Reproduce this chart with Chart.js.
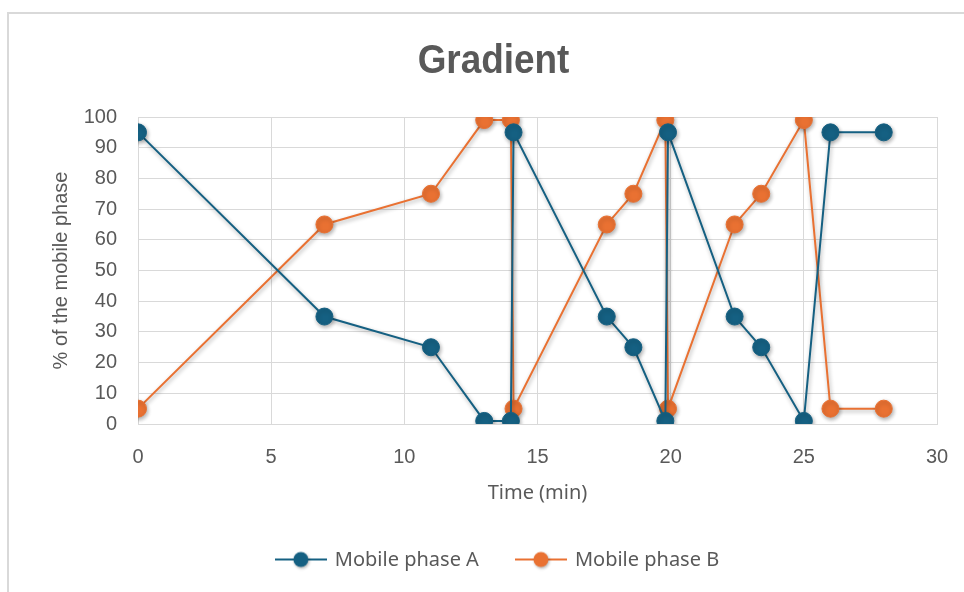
<!DOCTYPE html>
<html>
<head>
<meta charset="utf-8">
<title>Gradient</title>
<script src="https://cdn.jsdelivr.net/npm/chart.js@4.4.1/dist/chart.umd.min.js"></script>
<style>
  html, body { margin: 0; padding: 0; background: #ffffff; overflow: hidden; }
  #wrap { position: relative; width: 964px; height: 592px; overflow: hidden; }
  #frame { position: absolute; left: 7px; top: 12px; width: 1000px; height: 1000px;
           border: 2px solid #d9d9d9; box-sizing: border-box; }
  #c { position: absolute; left: 0; top: 0; }
</style>
</head>
<body>
<div id="wrap">
  <div id="frame"></div>
  <canvas id="c" width="964" height="592"></canvas>
</div>
<script>
// Gradient programme: time (min) and % of each mobile phase
const timeA  = [0, 7, 11, 13, 14, 14.1, 17.6, 18.6, 19.8, 19.9, 22.4, 23.4, 25, 26, 28];
const phaseA = [95, 35, 25, 1, 1, 95, 35, 25, 1, 95, 35, 25, 1, 95, 95];
const timeB  = [0, 7, 11, 13, 14, 14.1, 17.6, 18.6, 19.8, 19.9, 22.4, 23.4, 25, 26, 28];
const phaseB = [5, 65, 75, 99, 99, 5, 65, 75, 99, 5, 65, 75, 99, 5, 5];
const seriesNames = ['Mobile phase A', 'Mobile phase B'];
const xTicks = [0, 5, 10, 15, 20, 25, 30];
const yTicks = [0, 10, 20, 30, 40, 50, 60, 70, 80, 90, 100];
const chartTitle = 'Gradient';

const BLUE = '#156082';
const ORANGE = '#E97132';
const TEXT = '#595959';
const GRID = '#d9d9d9';

const toPoints = (xs, ys) => xs.map((x, i) => ({ x: x, y: ys[i] }));

// Legend swatch: short line with a round marker in the middle
function legendSwatch(color) {
  const cv = document.createElement('canvas');
  cv.width = 52; cv.height = 22;
  const g = cv.getContext('2d');
  g.strokeStyle = color; g.lineWidth = 2;
  g.beginPath(); g.moveTo(0, 10); g.lineTo(52, 10); g.stroke();
  g.shadowColor = 'rgba(0,0,0,0.3)'; g.shadowBlur = 3; g.shadowOffsetX = 1; g.shadowOffsetY = 1.5;
  g.fillStyle = color;
  g.beginPath(); g.arc(26, 10, 7.5, 0, Math.PI * 2); g.fill();
  return cv;
}

// Soft drop shadow under the series lines and markers
const seriesShadow = {
  id: 'seriesShadow',
  beforeDatasetsDraw(chart) {
    const ctx = chart.ctx;
    ctx.save();
    ctx.shadowColor = 'rgba(0,0,0,0.33)';
    ctx.shadowBlur = 4;
    ctx.shadowOffsetX = 1;
    ctx.shadowOffsetY = 2;
  },
  afterDatasetsDraw(chart) {
    chart.ctx.restore();
  }
};

// Condensed bold heading above the plot
const condensedTitle = {
  id: 'condensedTitle',
  afterDraw(chart, args, opts) {
    const ctx = chart.ctx;
    ctx.save();
    ctx.translate(opts.x, opts.y);
    ctx.scale(opts.squeeze, 1);
    ctx.fillStyle = opts.color;
    ctx.font = opts.font;
    ctx.textAlign = 'center';
    ctx.textBaseline = 'alphabetic';
    ctx.fillText(opts.text, 0, 0);
    ctx.restore();
  }
};

new Chart(document.getElementById('c'), {
  type: 'line',
  data: {
    datasets: [
      {
        label: seriesNames[0],
        data: toPoints(timeA, phaseA),
        borderColor: BLUE,
        backgroundColor: BLUE,
        pointBackgroundColor: BLUE,
        pointBorderColor: BLUE,
        borderWidth: 2,
        pointRadius: 8.5,
        pointBorderWidth: 1,
        pointStyle: 'circle',
        tension: 0,
        fill: false
      },
      {
        label: seriesNames[1],
        data: toPoints(timeB, phaseB),
        borderColor: ORANGE,
        backgroundColor: ORANGE,
        pointBackgroundColor: ORANGE,
        pointBorderColor: ORANGE,
        borderWidth: 2,
        pointRadius: 8.5,
        pointBorderWidth: 1,
        pointStyle: 'circle',
        tension: 0,
        fill: false
      }
    ]
  },
  options: {
    responsive: false,
    animation: false,
    layout: { padding: { left: 59, right: 27, top: 117, bottom: 11.5 } },
    plugins: {
      tooltip: { enabled: false },
      title: { display: false },
      condensedTitle: {
        text: chartTitle,
        x: 493.5,
        y: 73,
        squeeze: 0.9,
        color: TEXT,
        font: 'bold 41px "Liberation Sans", Arial, sans-serif'
      },
      legend: {
        position: 'bottom',
        labels: {
          color: TEXT,
          font: { family: '"Noto Sans", "Open Sans", sans-serif', size: 20 },
          usePointStyle: true,
          pointStyleWidth: 48,
          padding: 38,
          generateLabels(chart) {
            return chart.data.datasets.map((ds, i) => ({
              text: ds.label,
              pointStyle: legendSwatch(ds.borderColor),
              fillStyle: ds.borderColor,
              strokeStyle: ds.borderColor,
              lineWidth: 0,
              fontColor: TEXT,
              hidden: false,
              datasetIndex: i
            }));
          }
        }
      }
    },
    scales: {
      x: {
        type: 'linear',
        min: 0,
        max: 30,
        afterBuildTicks(scale) { scale.ticks = xTicks.map(v => ({ value: v })); },
        afterFit(scale) {
          scale.height = 88.5;
          scale.paddingLeft = 0;
          scale.paddingRight = 0;
        },
        grid: { color: GRID, lineWidth: 1, drawTicks: false },
        border: { color: GRID },
        ticks: {
          color: TEXT,
          padding: 21,
          font: { family: '"Liberation Sans", Arial, sans-serif', size: 20 }
        },
        title: {
          display: true,
          text: 'Time (min)',
          color: TEXT,
          font: { family: '"Noto Sans", "Open Sans", sans-serif', size: 20 },
          padding: { top: 0, bottom: 7.5 }
        }
      },
      y: {
        type: 'linear',
        min: 0,
        max: 100,
        afterBuildTicks(scale) { scale.ticks = yTicks.map(v => ({ value: v })); },
        afterFit(scale) { scale.width = 79; },
        grid: { color: GRID, lineWidth: 1, drawTicks: false },
        border: { color: GRID },
        ticks: {
          color: TEXT,
          padding: 21,
          font: { family: '"Liberation Sans", Arial, sans-serif', size: 20 }
        },
        title: {
          display: true,
          text: '% of the mobile phase',
          color: TEXT,
          font: { family: '"Liberation Sans", Arial, sans-serif', size: 20 },
          padding: { top: -10, bottom: 0 }
        }
      }
    }
  },
  plugins: [seriesShadow, condensedTitle]
});
</script>
</body>
</html>
